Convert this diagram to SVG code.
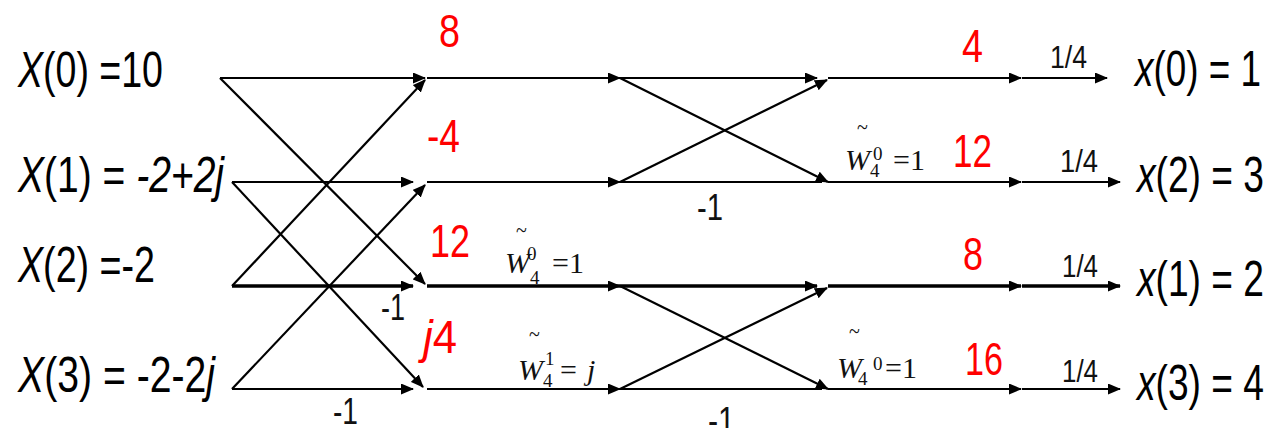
<svg xmlns="http://www.w3.org/2000/svg" width="1272" height="428" viewBox="0 0 1272 428">
<defs>
<marker id="arr" markerUnits="userSpaceOnUse" markerWidth="13" markerHeight="11" refX="12" refY="5.5" orient="auto">
<path d="M0,0 L13,5.5 L0,11 z" fill="#000"/>
</marker>
<style>
.ln{stroke:#000;stroke-width:2.2;fill:none}
.th{stroke-width:3.6}
.a{marker-end:url(#arr)}
.lab{font-family:"Liberation Sans",Arial,sans-serif;font-size:50px;fill:#000}
.it{font-style:italic}
.red{font-family:"Liberation Sans",Arial,sans-serif;font-size:46px;fill:#f00}
.m1{font-family:"Liberation Sans",Arial,sans-serif;font-size:36px;fill:#111}
.q{font-family:"Liberation Sans",Arial,sans-serif;font-size:32px;fill:#111}
.tw{font-family:"Liberation Serif","Times New Roman",serif;font-size:30px;fill:#111}
.sm{font-family:"Liberation Serif","Times New Roman",serif;font-size:19px;fill:#111}
.tl{font-family:"Liberation Serif","Times New Roman",serif;font-size:20px;fill:#111}
</style>
</defs>
<rect width="1272" height="428" fill="#fff"/>
<g id="connectors">
<path class="ln a" d="M220,78 H425"/>
<path class="ln a" d="M232,182 H413"/>
<path class="ln th a" d="M232,286 H413"/>
<path class="ln a" d="M232,389 H413"/>
<path class="ln a" d="M220,78 L425,284"/>
<path class="ln a" d="M232,182 L423,387"/>
<path class="ln a" d="M232,286 L425,80"/>
<path class="ln a" d="M232,389 L425,185"/>
<path class="ln a" d="M427,78 H620"/>
<path class="ln a" d="M427,182 H620"/>
<path class="ln th a" d="M427,286 H620"/>
<path class="ln a" d="M427,389 H620"/>
<path class="ln a" d="M620,78 H817"/>
<path class="ln a" d="M620,78 L828,182"/>
<path class="ln a" d="M620,182 L827,80"/>
<path class="ln" d="M620,182 H822"/>
<path class="ln th a" d="M620,286 H817"/>
<path class="ln a" d="M620,286 L828,389"/>
<path class="ln a" d="M620,389 L827,288"/>
<path class="ln" d="M620,389 H822"/>
<path class="ln a" d="M828,78 H1021"/>
<path class="ln a" d="M828,182 H1021"/>
<path class="ln th a" d="M828,286 H1021"/>
<path class="ln a" d="M828,389 H1021"/>
<path class="ln a" d="M1022,78 H1107"/>
<path class="ln a" d="M1022,182 H1120"/>
<path class="ln th a" d="M1022,286 H1120"/>
<path class="ln a" d="M1022,389 H1120"/>
</g>
<g id="in0"><text class="lab" x="18" y="87" textLength="145" lengthAdjust="spacingAndGlyphs"><tspan class="it">X</tspan>(0) =10</text></g>
<g id="in1"><text class="lab" x="18" y="192" textLength="206" lengthAdjust="spacingAndGlyphs"><tspan class="it">X</tspan>(1) = <tspan class="it">-2+2j</tspan></text></g>
<g id="in2"><text class="lab" x="18" y="282" textLength="137" lengthAdjust="spacingAndGlyphs"><tspan class="it">X</tspan>(2) =-2</text></g>
<g id="in3"><text class="lab" x="18" y="392" textLength="197" lengthAdjust="spacingAndGlyphs"><tspan class="it">X</tspan>(3) = -2-2<tspan class="it">j</tspan></text></g>
<g id="out0"><text class="lab" x="1135" y="86" textLength="126" lengthAdjust="spacingAndGlyphs"><tspan class="it">x</tspan>(0) = 1</text></g>
<g id="out2"><text class="lab" x="1137" y="192" textLength="127" lengthAdjust="spacingAndGlyphs"><tspan class="it">x</tspan>(2) = 3</text></g>
<g id="out1"><text class="lab" x="1137" y="296" textLength="127" lengthAdjust="spacingAndGlyphs"><tspan class="it">x</tspan>(1) = 2</text></g>
<g id="out3"><text class="lab" x="1137" y="400" textLength="127" lengthAdjust="spacingAndGlyphs"><tspan class="it">x</tspan>(3) = 4</text></g>
<g id="values">
<text class="red" x="439" y="47" textLength="21" lengthAdjust="spacingAndGlyphs">8</text>
<text class="red" x="427" y="152" textLength="33" lengthAdjust="spacingAndGlyphs">-4</text>
<text class="red" x="430" y="257" textLength="40" lengthAdjust="spacingAndGlyphs">12</text>
<text class="red" x="423" y="353" font-size="40" textLength="34" lengthAdjust="spacingAndGlyphs"><tspan class="it">j</tspan>4</text>
<text class="red" x="962" y="62" font-size="40" textLength="21" lengthAdjust="spacingAndGlyphs">4</text>
<text class="red" x="953" y="167" textLength="39" lengthAdjust="spacingAndGlyphs">12</text>
<text class="red" x="963" y="270" textLength="20" lengthAdjust="spacingAndGlyphs">8</text>
<text class="red" x="965" y="375" textLength="38" lengthAdjust="spacingAndGlyphs">16</text>
</g>
<g id="minus-ones">
<text class="m1" x="381" y="320" textLength="24" lengthAdjust="spacingAndGlyphs">-1</text>
<text class="m1" x="333" y="424" font-size="33" textLength="25" lengthAdjust="spacingAndGlyphs">-1</text>
<text class="m1" x="697" y="220" textLength="26" lengthAdjust="spacingAndGlyphs">-1</text>
<text class="m1" x="708" y="433" textLength="27" lengthAdjust="spacingAndGlyphs">-1</text>
</g>
<g id="scale">
<text class="q" x="1050" y="68" textLength="37" lengthAdjust="spacingAndGlyphs">1/4</text>
<text class="q" x="1060" y="172" textLength="38" lengthAdjust="spacingAndGlyphs">1/4</text>
<text class="q" x="1062" y="277" textLength="36" lengthAdjust="spacingAndGlyphs">1/4</text>
<text class="q" x="1062" y="382" textLength="36" lengthAdjust="spacingAndGlyphs">1/4</text>
</g>
<g id="tw-s2-r2">
<text class="tw it" x="505" y="273">W</text>
<text class="tl" x="516" y="237">~</text>
<text class="sm" x="527" y="260">0</text>
<text class="sm" x="530" y="284">4</text>
<text class="tw" x="552" y="273">=1</text>
</g>
<g id="tw-s2-r3">
<text class="tw it" x="518" y="380">W</text>
<text class="tl" x="529" y="341">~</text>
<text class="sm" x="545" y="365">1</text>
<text class="sm" x="543" y="387">4</text>
<text class="tw" x="560" y="380">=</text>
<text class="tw it" x="587" y="380">j</text>
</g>
<g id="tw-s3-r1">
<text class="tw it" x="845" y="170">W</text>
<text class="tl" x="857" y="134">~</text>
<text class="sm" x="873" y="160">0</text>
<text class="sm" x="870" y="177">4</text>
<text class="tw" x="893" y="170">=1</text>
</g>
<g id="tw-s3-r3">
<text class="tw it" x="837" y="378">W</text>
<text class="tl" x="849" y="338">~</text>
<text class="sm" x="873" y="370">0</text>
<text class="sm" x="858" y="385">4</text>
<text class="tw" x="885" y="378">=1</text>
</g>
</svg>
